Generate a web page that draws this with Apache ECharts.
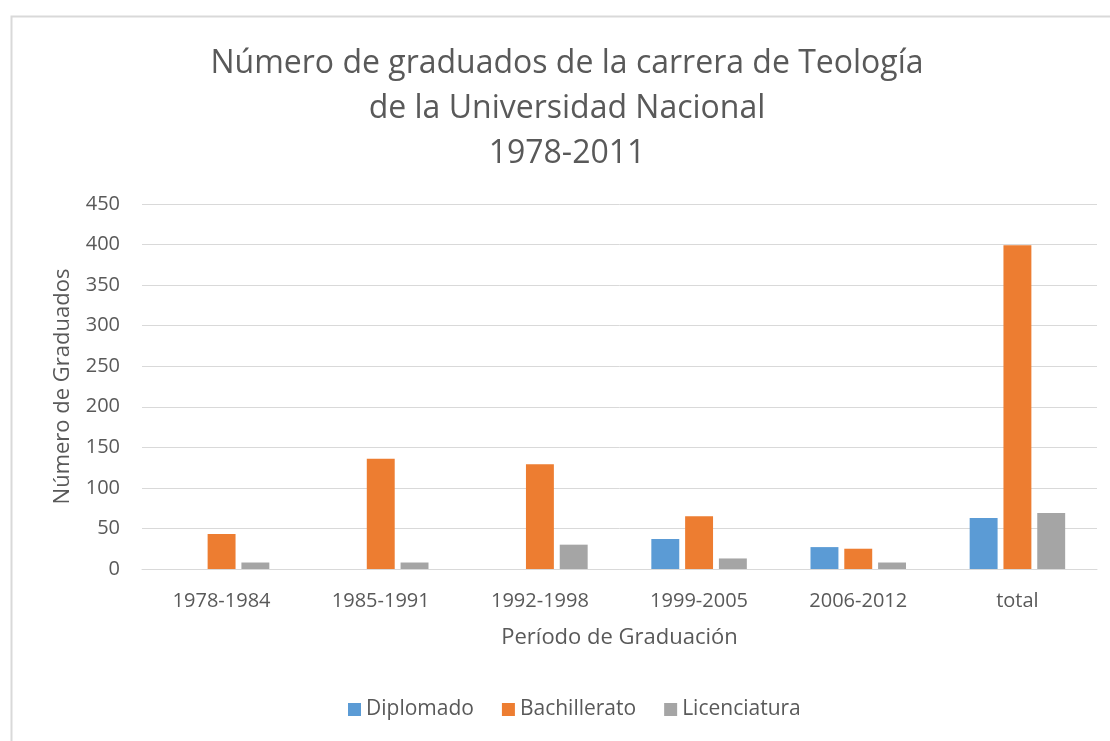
<!DOCTYPE html>
<html>
<head>
<meta charset="utf-8">
<script src="https://cdn.jsdelivr.net/npm/echarts@6/dist/echarts.min.js"></script>
<style>
html,body{margin:0;padding:0;background:#fff;}
#c{width:1110px;height:741px;}
</style>
</head>
<body>
<div id="c"></div>
<script>
const titleText = 'Número de graduados de la carrera de Teología\nde la Universidad Nacional\n1978-2011';
const categories = ['1978-1984', '1985-1991', '1992-1998', '1999-2005', '2006-2012', 'total'];
const diplomado = [null, null, null, 37, 27, 63];
const bachillerato = [43, 136, 129, 65, 25, 399];
const licenciatura = [8, 8, 30, 13, 8, 69];
const yAxisName = 'Número de Graduados';
const xAxisName = 'Período de Graduación';

const FONT = 'Open Sans';
const TXT = '#595959';
const chart = echarts.init(document.getElementById('c'), null, {renderer: 'canvas'});
chart.setOption({
  backgroundColor: '#fff',
  animation: false,
  textStyle: {fontFamily: FONT},
  graphic: [{
    type: 'rect', left: 9, top: 14,
    shape: {width: 1110, height: 740},
    style: {fill: 'none', stroke: '#d9d9d9', lineWidth: 2}, silent: true
  }],
  title: {
    text: titleText, left: 562, top: 36, textAlign: 'center',
    textStyle: {fontFamily: FONT, fontSize: 32, fontWeight: 'normal', color: TXT, lineHeight: 45}
  },
  legend: {
    bottom: 16, left: 343, itemWidth: 13, itemHeight: 13, itemGap: 28,
    icon: 'rect',
    textStyle: {fontFamily: FONT, fontSize: 21, color: TXT}
  },
  grid: {left: 142, right: 13, top: 204, bottom: 172},
  xAxis: {
    type: 'category', data: categories,
    name: xAxisName, nameLocation: 'middle', nameGap: 58,
    nameTextStyle: {fontFamily: FONT, fontSize: 22, color: TXT},
    axisLine: {show: true, lineStyle: {color: '#d9d9d9', width: 1}},
    axisTick: {show: false},
    axisLabel: {fontFamily: FONT, fontSize: 20, color: TXT, margin: 22}
  },
  yAxis: {
    type: 'value', min: 0, max: 450, interval: 50,
    name: yAxisName, nameLocation: 'middle', nameGap: 68,
    nameTextStyle: {fontFamily: FONT, fontSize: 22, color: TXT},
    axisLine: {show: false}, axisTick: {show: false},
    axisLabel: {fontFamily: FONT, fontSize: 20, color: TXT, margin: 22},
    splitLine: {lineStyle: {color: '#d9d9d9', width: 1}}
  },
  series: [
    {name: 'Diplomado', type: 'bar', data: diplomado, itemStyle: {color: '#5b9bd5'}, barGap: '21%', barCategoryGap: '40%'},
    {name: 'Bachillerato', type: 'bar', data: bachillerato, itemStyle: {color: '#ed7d31'}},
    {name: 'Licenciatura', type: 'bar', data: licenciatura, itemStyle: {color: '#a5a5a5'}}
  ]
});
</script>
</body>
</html>
